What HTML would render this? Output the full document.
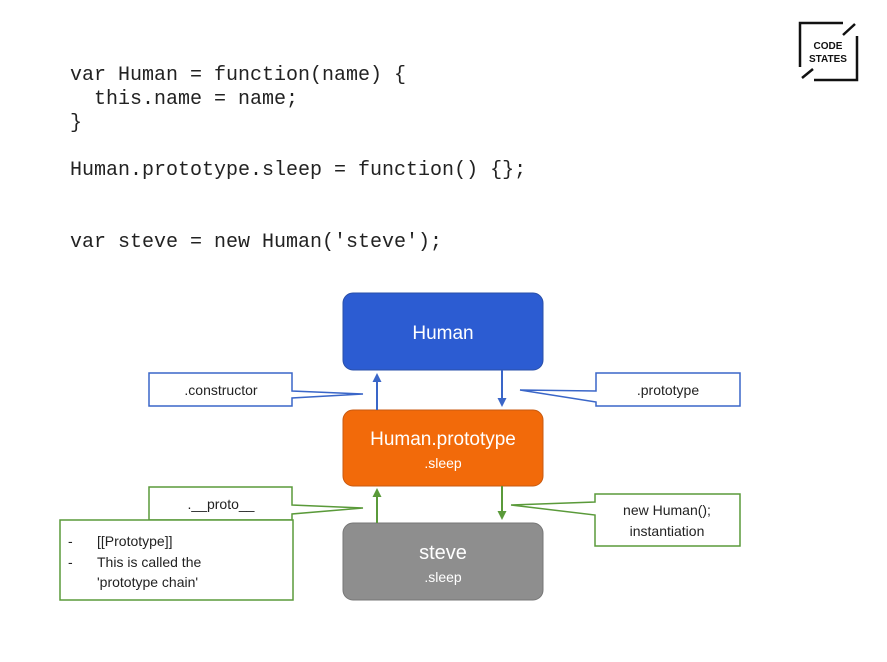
<!DOCTYPE html>
<html><head><style>
body{margin:0;width:887px;height:662px;background:#fff;overflow:hidden;position:relative;font-family:"Liberation Sans",sans-serif}
.code{position:absolute;left:70px;font-family:"Liberation Mono",monospace;font-size:20px;color:#222;white-space:pre;line-height:24px}
</style></head><body>
<div class="code" style="top:64px">var Human = function(name) {
  this.name = name;
}</div>
<div class="code" style="top:159px">Human.prototype.sleep = function() {};</div>
<div class="code" style="top:231px">var steve = new Human('steve');</div>
<svg width="887" height="662" style="position:absolute;left:0;top:0" font-family="Liberation Sans, sans-serif">
<defs>
<marker id="ab" markerWidth="9" markerHeight="9" refX="6" refY="4.5" orient="auto" markerUnits="userSpaceOnUse"><path d="M0,0 L9,4.5 L0,9z" fill="#3a66c8"/></marker>
<marker id="ag" markerWidth="9" markerHeight="9" refX="6" refY="4.5" orient="auto" markerUnits="userSpaceOnUse"><path d="M0,0 L9,4.5 L0,9z" fill="#5a9a3a"/></marker>
</defs>
<path d="M843,23 H800 V67 M814,80 H857 V36" fill="none" stroke="#111" stroke-width="2.5"/>
<path d="M843,35 L855,24 M813,69 L802,78" stroke="#111" stroke-width="2.5"/>
<text x="828" y="49" font-size="10" font-weight="bold" text-anchor="middle" fill="#111">CODE</text>
<text x="828" y="62" font-size="10" font-weight="bold" text-anchor="middle" fill="#111">STATES</text>
<rect x="343" y="293" width="200" height="77" rx="10" fill="#2C5CD2" stroke="#2a4fa8"/>
<text x="443" y="339" font-size="19" fill="#fff" text-anchor="middle">Human</text>
<rect x="343" y="410" width="200" height="76" rx="10" fill="#F26A0A" stroke="#c85a10"/>
<text x="443" y="445" font-size="19" fill="#fff" text-anchor="middle">Human.prototype</text>
<text x="443" y="468" font-size="14" fill="#fff" text-anchor="middle">.sleep</text>
<rect x="343" y="523" width="200" height="77" rx="10" fill="#8E8E8E" stroke="#777"/>
<text x="443" y="559" font-size="20" fill="#fff" text-anchor="middle">steve</text>
<text x="443" y="582" font-size="14" fill="#fff" text-anchor="middle">.sleep</text>
<line x1="377" y1="410" x2="377" y2="376" stroke="#3a66c8" stroke-width="2" marker-end="url(#ab)"/>
<line x1="502" y1="370" x2="502" y2="404" stroke="#3a66c8" stroke-width="2" marker-end="url(#ab)"/>
<line x1="377" y1="523" x2="377" y2="491" stroke="#5a9a3a" stroke-width="2" marker-end="url(#ag)"/>
<line x1="502" y1="486" x2="502" y2="517" stroke="#5a9a3a" stroke-width="2" marker-end="url(#ag)"/>
<path d="M149,373 H292 V391 L363,394 L292,398 V406 H149Z" fill="#fff" stroke="#3a66c8" stroke-width="1.5"/>
<text x="221" y="395" font-size="14" text-anchor="middle" fill="#222">.constructor</text>
<path d="M596,373 H740 V406 H596 V402 L520,390 L596,391Z" fill="#fff" stroke="#3a66c8" stroke-width="1.5"/>
<text x="668" y="395" font-size="14" text-anchor="middle" fill="#222">.prototype</text>
<path d="M149,487 H292 V505 L363,508 L292,514 V520 H149Z" fill="#fff" stroke="#5a9a3a" stroke-width="1.5"/>
<text x="221" y="509" font-size="14" text-anchor="middle" fill="#222">.__proto__</text>
<path d="M595,494 H740 V546 H595 V515 L511,505 L595,502Z" fill="#fff" stroke="#5a9a3a" stroke-width="1.5"/>
<text x="667" y="515" font-size="14" text-anchor="middle" fill="#222">new Human();</text>
<text x="667" y="536" font-size="14" text-anchor="middle" fill="#222">instantiation</text>
<rect x="60" y="520" width="233" height="80" fill="#fff" stroke="#5a9a3a" stroke-width="1.5"/>
<text x="68" y="546" font-size="14" fill="#222">-</text><text x="97" y="546" font-size="14" fill="#222">[[Prototype]]</text>
<text x="68" y="567" font-size="14" fill="#222">-</text><text x="97" y="567" font-size="14" fill="#222">This is called the</text>
<text x="97" y="587" font-size="14" fill="#222">'prototype chain'</text>
</svg>
</body></html>
